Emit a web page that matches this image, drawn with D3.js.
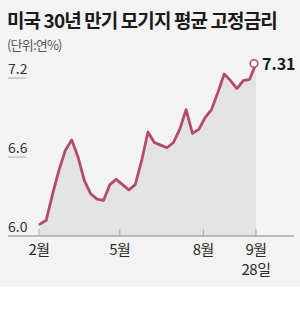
<!DOCTYPE html>
<html>
<head>
<meta charset="utf-8">
<script src="https://cdn.jsdelivr.net/npm/d3@7"></script>
<style>
  body { margin: 0; background: #fff; }
  svg { display: block; }
  .num { font-family: "Liberation Sans Narrow", "Noto Sans CJK KR", sans-serif; }
</style>
</head>
<body>
<svg id="chart" width="300" height="323"></svg>
<script>
// 주간 30년 고정금리 (2023)
const dates = ["2023-02-02","2023-02-09","2023-02-16","2023-02-23","2023-03-02","2023-03-09",
  "2023-03-16","2023-03-23","2023-03-30","2023-04-06","2023-04-13","2023-04-20","2023-04-27",
  "2023-05-04","2023-05-11","2023-05-18","2023-05-25","2023-06-01","2023-06-08","2023-06-15",
  "2023-06-22","2023-06-29","2023-07-06","2023-07-13","2023-07-20","2023-07-27","2023-08-03",
  "2023-08-10","2023-08-17","2023-08-24","2023-08-31","2023-09-07","2023-09-14","2023-09-21",
  "2023-09-28"];
const rates = [6.09,6.12,6.32,6.50,6.65,6.73,6.60,6.42,6.32,6.28,6.27,6.39,6.43,
  6.39,6.35,6.39,6.57,6.79,6.71,6.69,6.67,6.71,6.81,6.96,6.78,6.81,6.90,
  6.96,7.09,7.23,7.18,7.12,7.18,7.19,7.31];
const yTicks = [6.0, 6.6, 7.2];
const yTickLabels = ["6.0", "6.6", "7.2"];
const xTicks = ["2023-02-01", "2023-05-01", "2023-08-01", "2023-09-28"];
const xTickLabels = [["2월"], ["5월"], ["8월"], ["9월", "28일"]];

const parseTime = d3.timeParse("%Y-%m-%d");
const data = dates.map((d, i) => ({ date: parseTime(d), rate: rates[i] }));

const svg = d3.select("#chart");

// 배경
svg.append("rect").attr("width", 300).attr("height", 287).attr("fill", "#f3f3f3");

// 제목
svg.append("text")
    .attr("x", 7).attr("y", 28)
    .attr("font-family", "Noto Sans CJK KR").attr("font-weight", 700)
    .attr("font-size", 19).attr("letter-spacing", -0.9)
    .attr("fill", "#1a1a1a")
    .text("미국 30년 만기 모기지 평균 고정금리");

svg.append("text")
    .attr("x", 7).attr("y", 50)
    .attr("font-family", "Noto Sans CJK KR")
    .attr("font-size", 13).attr("letter-spacing", -0.8)
    .attr("fill", "#555")
    .text("(단위:연%)");

const x = d3.scaleTime()
    .domain([parseTime("2023-02-01"), parseTime("2023-09-28")])
    .range([39, 256]);

const y = d3.scaleLinear()
    .domain([6.0, 7.2])
    .range([236, 78]);

// 면적
const area = d3.area()
    .x(d => x(d.date))
    .y0(y(6.0))
    .y1(d => y(d.rate));

svg.append("path")
    .datum(data)
    .attr("fill", "#e3e3e3")
    .attr("d", area);

// y 눈금
yTicks.forEach((t, i) => {
  if (t > 6.0) {
    svg.append("line")
        .attr("x1", 8).attr("x2", 26)
        .attr("y1", y(t)).attr("y2", y(t))
        .attr("stroke", "#aaa").attr("stroke-width", 1);
  }
  svg.append("text")
      .attr("class", "num")
      .attr("x", 8).attr("y", y(t) - 4)
      .attr("font-size", 14)
      .attr("fill", "#333")
      .text(yTickLabels[i]);
});

// x 축
svg.append("line")
    .attr("x1", 8).attr("x2", 294)
    .attr("y1", y(6.0)).attr("y2", y(6.0))
    .attr("stroke", "#a8a8a8").attr("stroke-width", 1.5);

xTicks.forEach((t, i) => {
  const xp = x(parseTime(t));
  svg.append("line")
      .attr("x1", xp).attr("x2", xp)
      .attr("y1", y(6.0) - 7).attr("y2", y(6.0))
      .attr("stroke", "#a8a8a8").attr("stroke-width", 1);
  const txt = svg.append("text")
      .attr("class", "num")
      .attr("text-anchor", "middle")
      .attr("font-size", 15)
      .attr("letter-spacing", -0.5)
      .attr("fill", "#2a2a2a");
  xTickLabels[i].forEach((s, j) => {
    txt.append("tspan").attr("x", xp).attr("y", 255 + j * 20).text(s);
  });
});

// 금리 선
const line = d3.line()
    .x(d => x(d.date))
    .y(d => y(d.rate));

svg.append("path")
    .datum(data)
    .attr("fill", "none")
    .attr("stroke", "#b34a72")
    .attr("stroke-width", 2.8)
    .attr("stroke-linejoin", "round")
    .attr("stroke-linecap", "round")
    .attr("d", line);

// 마지막 값
const last = data[data.length - 1];
svg.append("circle")
    .attr("cx", x(last.date) - 2).attr("cy", y(last.rate))
    .attr("r", 3.8)
    .attr("fill", "#fff")
    .attr("stroke", "#b34a72").attr("stroke-width", 1.6);

svg.append("text")
    .attr("class", "num")
    .attr("x", 262).attr("y", y(last.rate) + 6)
    .attr("font-size", 16).attr("font-weight", 700)
    .attr("fill", "#1a1a1a")
    .text(d3.format(".2f")(last.rate));
</script>
</body>
</html>
